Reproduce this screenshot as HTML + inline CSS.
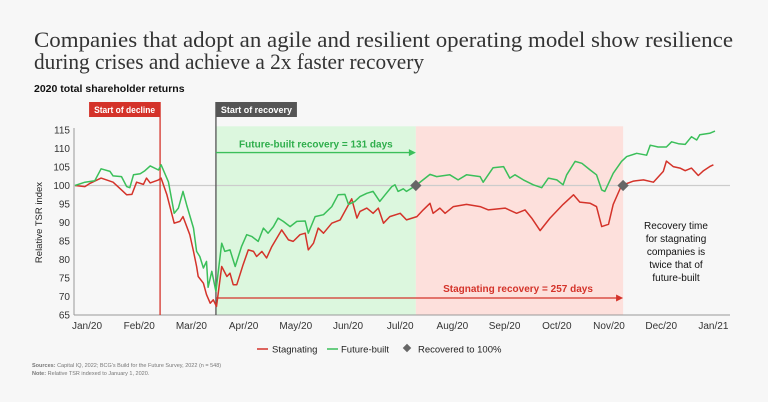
<!DOCTYPE html>
<html><head><meta charset="utf-8"><style>
html,body{margin:0;padding:0;background:#f7f7f7;}
svg{display:block;font-family:"Liberation Sans",sans-serif;}
</style></head><body>
<svg id="chart" width="768" height="402" viewBox="0 0 768 402">
<rect width="768" height="402" fill="#f7f7f7"/>
<text x="34" y="47" font-family="Liberation Serif, serif" font-size="22" fill="#333" textLength="699" lengthAdjust="spacingAndGlyphs">Companies that adopt an agile and resilient operating model show resilience</text>
<text x="34" y="69" font-family="Liberation Serif, serif" font-size="22" fill="#333" textLength="390" lengthAdjust="spacingAndGlyphs">during crises and achieve a 2x faster recovery</text>
<text x="34" y="92" font-size="10.5" font-weight="bold" fill="#111">2020 total shareholder returns</text>
<g id="plot"></g>
<g>
<line x1="257" y1="349" x2="268" y2="349" stroke="#d4332a" stroke-width="1.5"/>
<text x="272" y="352.5" font-size="9.5" fill="#222">Stagnating</text>
<line x1="327" y1="349" x2="338" y2="349" stroke="#3bbf5a" stroke-width="1.5"/>
<text x="341" y="352.5" font-size="9.5" fill="#222">Future-built</text>
<rect x="404" y="345" width="6" height="6" fill="#666" transform="rotate(45 407 348)"/>
<text x="418" y="352.5" font-size="9.5" fill="#222">Recovered to 100%</text>
</g>
<text x="32" y="367" font-size="5.5" fill="#777"><tspan font-weight="bold">Sources:</tspan> Capital IQ, 2022; BCG's Build for the Future Survey, 2022 (n = 548)</text>
<text x="32" y="375" font-size="5.5" fill="#777"><tspan font-weight="bold">Note:</tspan> Relative TSR indexed to January 1, 2020.</text>
</svg>
<script>
// time in months since Jan 1 2020
const greenT=[-0.23,-0.04,0.15,0.27,0.44,0.50,0.66,0.76,0.82,0.89,1.02,1.11,1.21,1.37,1.42,1.56,1.67,1.75,1.84,1.91,2.04,2.10,2.16,2.23,2.29,2.32,2.39,2.47,2.58,2.64,2.74,2.84,2.96,3.06,3.16,3.28,3.38,3.47,3.57,3.66,3.76,3.89,4.02,4.18,4.24,4.37,4.53,4.69,4.81,4.94,5.01,5.13,5.23,5.36,5.48,5.61,5.71,5.84,5.90,5.96,6.06,6.12,6.30,6.57,6.70,6.95,7.11,7.27,7.53,7.59,7.78,7.98,8.10,8.20,8.36,8.55,8.71,8.84,9.00,9.12,9.19,9.35,9.48,9.64,9.76,9.86,9.92,10.08,10.24,10.34,10.53,10.72,10.79,10.94,11.10,11.20,11.33,11.46,11.58,11.68,11.74,11.93,12.03];
const greenV=[100,100.9,101.3,104.5,103.8,102.6,102.4,99.7,99.4,102.9,103.2,104,105.3,104.2,105.6,101,92.5,93.9,98.4,94.7,88.5,82.2,80.8,77.7,79.5,72.5,76.8,71.4,84.4,82.2,82.6,78.1,83.5,86.7,86.2,84.9,88.5,87.1,88.9,91.2,90.3,88.9,90.3,90.4,87.1,91.6,92.1,94.3,97.5,97.6,94.9,95.7,97,97.9,98.4,95.7,97.5,99.7,100.2,98.4,99.1,98.4,100,103,102.4,102.9,101.5,102.9,102.4,100.9,104.8,105.1,102,102.9,101.5,100.2,99.4,102,101.5,100.2,102.9,106.5,106,104.2,102.9,98.8,98.4,103.3,106.5,107.8,108.7,108.2,110.9,110.4,110.4,111.8,111.3,111.1,113.2,112.3,113.7,114.1,114.7];
const redT=[-0.23,-0.04,0.06,0.27,0.50,0.66,0.76,0.86,0.95,1.08,1.14,1.21,1.37,1.42,1.53,1.67,1.78,1.84,1.97,2.04,2.10,2.13,2.23,2.29,2.36,2.42,2.48,2.58,2.68,2.74,2.80,2.87,2.99,3.09,3.19,3.25,3.35,3.44,3.54,3.73,3.86,3.95,4.08,4.18,4.24,4.34,4.43,4.53,4.69,4.85,5.07,5.17,5.23,5.36,5.48,5.58,5.68,5.80,6.00,6.12,6.32,6.44,6.57,6.63,6.76,6.86,7.02,7.27,7.53,7.69,8.01,8.23,8.39,8.52,8.68,8.87,9.12,9.32,9.44,9.64,9.76,9.86,9.99,10.08,10.24,10.47,10.66,10.85,11.04,11.10,11.23,11.36,11.46,11.58,11.71,11.81,11.93,12.00];
const redV=[100,99.7,100.6,102,100.9,98.8,97.5,97.6,100.9,100.3,102,100.7,101.5,102,97.5,89.8,90.3,91.6,86.7,82.2,78.1,75.4,73.6,70.5,68.2,69.1,67.3,78.1,75.4,76.3,73.2,73.2,78.6,82.6,82.2,80.8,82.2,80.4,83.5,88,85.3,84.9,86.7,87.1,82.6,84.4,88.5,87.1,89.8,90.7,96.4,91.2,93,93.9,92.5,93.9,89.8,91.6,92.5,90.7,91.6,93.4,95.2,92.5,93.9,92.5,94.3,94.9,94.3,93.4,93.9,92.5,93.4,91.2,87.8,91.2,94.9,97.5,95.5,95.2,94.3,88.9,89.5,94.9,100,101.2,101.5,100.9,103.8,106.6,105.1,104.7,104,104.7,102.7,104,105.1,105.6];
const monthLabels=["Jan/20","Feb/20","Mar/20","Apr/20","May/20","Jun/20","Jul/20","Aug/20","Sep/20","Oct/20","Nov/20","Dec/20","Jan/21"];
const yTicks=[65,70,75,80,85,90,95,100,105,110,115];
const declineT=1.40, recoveryT=2.47, fbRecoveredT=6.30, stRecoveredT=10.27;

const NS="http://www.w3.org/2000/svg";
const X=t=>87+t*52.2;
const Y=v=>315-(v-65)*3.7;
const g=document.getElementById('plot');
function mk(tag,attrs,parent){const e=document.createElementNS(NS,tag);for(const k in attrs)e.setAttribute(k,attrs[k]);(parent||g).appendChild(e);return e;}

let e;
e=mk('rect',{x:X(recoveryT),y:Y(116),width:X(fbRecoveredT)-X(recoveryT),height:Y(65)-Y(116),fill:'#dcf7de'});


e=mk('rect',{x:X(fbRecoveredT),y:Y(116),width:X(stRecoveredT)-X(fbRecoveredT),height:Y(65)-Y(116),fill:'#fde0dc'});



yTicks.forEach(v=>{
  const t=mk('text',{x:70,y:Y(v)+3.5,'text-anchor':'end','font-size':'10',fill:'#333'});
  t.textContent=v;
  
  
});
e=mk('text',{x:42,y:Y(90),'text-anchor':'middle','font-size':'9.5',fill:'#222',transform:`rotate(-90 42 ${Y(90)})`});
e.textContent='Relative TSR index';



e=mk('line',{x1:74,y1:Y(100),x2:730,y2:Y(100),stroke:'#ccc','stroke-width':1.2});


e=mk('line',{x1:74,y1:Y(115)-2,x2:74,y2:Y(65),stroke:'#999','stroke-width':1});


e=mk('line',{x1:74,y1:Y(65),x2:730,y2:Y(65),stroke:'#999','stroke-width':1});



monthLabels.forEach((m,i)=>{
  const t=mk('text',{x:X(i),y:329,'text-anchor':'middle','font-size':'10',fill:'#333'});
  t.textContent=m;
  
  
});

e=mk('line',{x1:X(declineT),y1:102,x2:X(declineT),y2:Y(65),stroke:'#d4332a','stroke-width':1.3});


e=mk('rect',{x:X(declineT)-71,y:102,width:71,height:15,fill:'#d4332a'});


e=mk('text',{x:X(declineT)-66,y:113,'font-size':'9','font-weight':'bold',fill:'#fff',textLength:61,lengthAdjust:'spacingAndGlyphs'});
e.textContent='Start of decline';



e=mk('line',{x1:X(recoveryT),y1:102,x2:X(recoveryT),y2:Y(65),stroke:'#555','stroke-width':1.3});


e=mk('rect',{x:X(recoveryT),y:102,width:81,height:15,fill:'#555'});


e=mk('text',{x:X(recoveryT)+5,y:113,'font-size':'9','font-weight':'bold',fill:'#fff',textLength:71,lengthAdjust:'spacingAndGlyphs'});
e.textContent='Start of recovery';



function path(T,V){return T.map((t,i)=>(i?'L':'M')+X(t).toFixed(1)+' '+Y(V[i]).toFixed(1)).join(' ');}
e=mk('path',{d:path(redT,redV),fill:'none',stroke:'#d4332a','stroke-width':1.5,'stroke-linejoin':'round'});


e=mk('path',{d:path(greenT,greenV),fill:'none',stroke:'#3bbf5a','stroke-width':1.5,'stroke-linejoin':'round'});



const ga=Y(108.9), ra=Y(69.6);
e=mk('line',{x1:X(recoveryT),y1:ga,x2:X(fbRecoveredT)-6,y2:ga,stroke:'#3bbf5a','stroke-width':1.3});


e=mk('path',{d:`M${X(fbRecoveredT)} ${ga} l-7 -3.5 v7 z`,fill:'#3bbf5a'});


e=mk('text',{x:(X(recoveryT)+X(fbRecoveredT))/2,y:ga-5,'text-anchor':'middle','font-size':'10','font-weight':'bold',fill:'#2fae4c'});
e.textContent='Future-built recovery = 131 days';



e=mk('line',{x1:X(recoveryT),y1:ra,x2:X(stRecoveredT)-6,y2:ra,stroke:'#d4332a','stroke-width':1.3});


e=mk('path',{d:`M${X(stRecoveredT)} ${ra} l-7 -3.5 v7 z`,fill:'#d4332a'});


e=mk('text',{x:518,y:ra-6,'text-anchor':'middle','font-size':'10','font-weight':'bold',fill:'#d4332a'});
e.textContent='Stagnating recovery = 257 days';



[fbRecoveredT,stRecoveredT].forEach(t=>{
  const d=mk('rect',{x:X(t)-4,y:Y(100)-4,width:8,height:8,fill:'#666',transform:`rotate(45 ${X(t)} ${Y(100)})`});
  
  
});

["Recovery time","for stagnating","companies is","twice that of","future-built"].forEach((s,i)=>{
  const t=mk('text',{x:676,y:229+i*13,'text-anchor':'middle','font-size':'10',fill:'#111'});
  t.textContent=s;
  
  
});
</script>
</body></html>
